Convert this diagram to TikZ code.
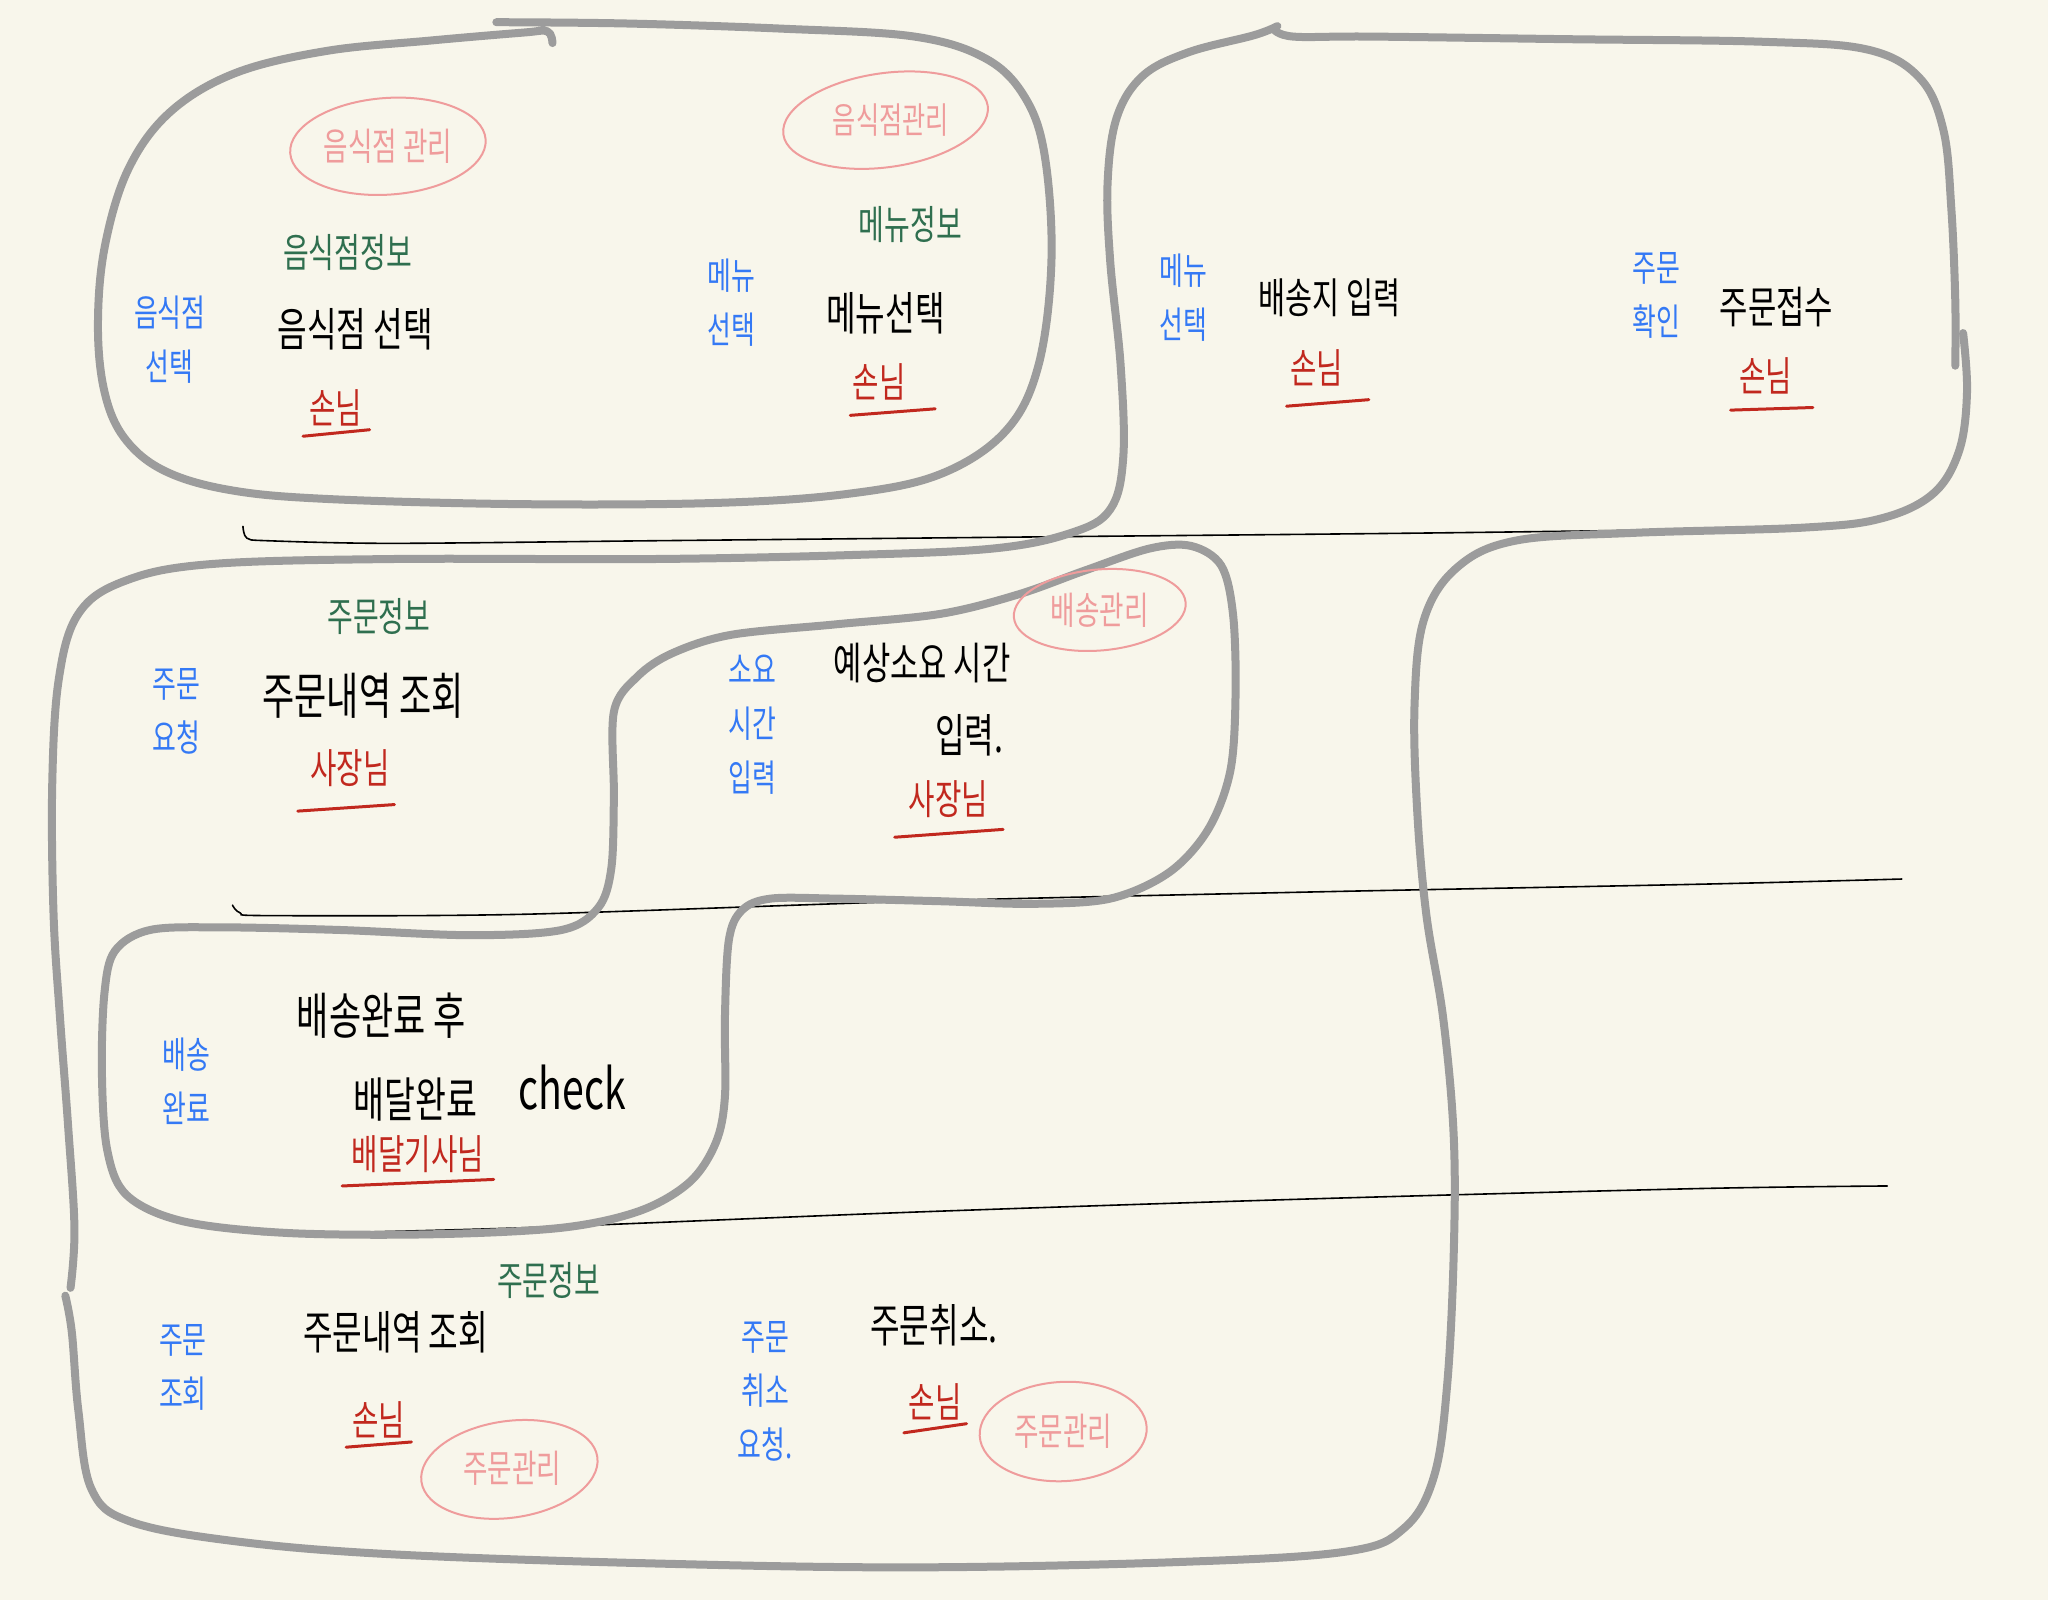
\documentclass[tikz,border=0pt]{standalone}
\usepackage{fontspec}
\newfontfamily\kr[FakeStretch=0.7]{Noto Sans CJK KR}
\definecolor{paper}{HTML}{F8F6EB}
\definecolor{pen}{HTML}{9C9C9C}
\definecolor{inkblue}{HTML}{3479F5}
\definecolor{inkgreen}{HTML}{2F6F4F}
\definecolor{inkred}{HTML}{C1281E}
\definecolor{inkpink}{HTML}{EF9C9C}
\tikzset{
  blk/.style={text=black,inner sep=0pt,font=\kr\fontsize{#1}{#1}\selectfont},
  blk/.default=46,
  blu/.style={text=inkblue,inner sep=0pt,align=center,font=\kr\fontsize{#1}{54}\selectfont},
  blu/.default=37,
  grn/.style={text=inkgreen,inner sep=0pt,font=\kr\fontsize{#1}{#1}\selectfont},
  grn/.default=40,
  rd/.style={text=inkred,inner sep=0pt,font=\kr\fontsize{#1}{#1}\selectfont},
  rd/.default=41,
  pnk/.style={text=inkpink,inner sep=0pt,font=\kr\fontsize{#1}{#1}\selectfont},
  pnk/.default=38,
  ring/.style={draw=inkpink,line width=2pt},
  ul/.style={draw=inkred,line width=3pt,line cap=round},
  gr/.style={draw=pen,line width=8pt,line cap=round,line join=round},
  rule/.style={draw=black,line width=1.6pt,line cap=round}
}
\begin{document}
\begin{tikzpicture}[x=1.30612pt,y=-1.30612pt]
\fill[paper] (0,0) rectangle (1568,1225);
\useasboundingbox (0,0) rectangle (1568,1225);

% thin black rules
\draw[rule] plot[smooth,tension=0.5] coordinates {(186,403) (189,412) (205,414) (300,416) (500,414) (800,411) (1100,408) (1395,404)};
\draw[rule] plot[smooth,tension=0.5] coordinates {(178,693) (184,699) (205,701) (400,700) (700,690) (1000,683) (1300,677) (1456,673)};
\draw[rule] plot[smooth,tension=0.5] coordinates {(200,945) (400,940) (700,928) (1000,918) (1300,910) (1445,908)};

% shape A (top-left)
\draw[gr] plot[smooth,tension=0.6] coordinates {(423,33) (419,24) (400,25) (330,31) (250,39) (180,56) (130,86) (98,130) (80,190) (75,250) (80,300) (95,335) (125,360) (175,375) (250,382) (400,386) (550,385) (650,378) (720,363) (770,330) (795,280) (805,200) (800,120) (785,75) (755,45) (700,28) (600,22) (480,18) (380,17)};

% big outer shape (top-right box continuing round the lower rows)
\draw[gr] plot[smooth,tension=0.6] coordinates {(975,22) (990,28) (1050,28) (1200,30) (1350,32) (1430,38) (1470,60) (1488,100) (1494,160) (1497,230) (1497,280)};
\draw[gr] plot[smooth,tension=0.6] coordinates {(1503,255) (1506,300) (1500,345) (1480,378) (1440,397) (1380,404) (1250,408) (1160,414) (1115,435) (1090,475) (1083,540) (1085,620) (1092,700) (1105,780) (1113,870) (1113,960) (1108,1060) (1098,1130) (1075,1170) (1030,1188) (900,1196) (700,1200) (500,1197) (300,1190) (180,1180) (100,1165) (70,1140) (60,1080) (55,1020) (50,992)};
\draw[gr] plot[smooth,tension=0.6] coordinates {(54,986) (57,940) (52,860) (46,780) (41,700) (40,600) (45,520) (60,470) (95,445) (160,432) (300,428) (500,428) (650,425) (760,420) (820,408) (850,390) (860,350) (858,280) (850,200) (848,140) (855,90) (875,58) (910,40) (960,27) (978,20)};

% shape E (middle S-shape)
\draw[gr] plot[smooth cycle,tension=0.55] coordinates {(470,545) (488,518) (515,500) (560,486) (640,478) (720,470) (780,455) (830,437) (880,420) (912,418) (935,433) (944,470) (946,530) (942,590) (925,635) (895,668) (850,688) (790,692) (720,690) (640,688) (590,688) (568,697) (558,720) (555,780) (555,840) (548,875) (528,905) (490,927) (430,940) (330,945) (220,944) (140,935) (97,915) (82,880) (78,820) (80,760) (88,728) (115,712) (170,710) (260,712) (360,716) (430,712) (458,695) (468,665) (470,610)};

% ---- row 1, left box
\node[pnk=38] (p1) at (297,112) {음식점 관리};
\draw[ring] (p1) ellipse[x radius=75, y radius=37, rotate=4];
\node[grn=40] (g1) at (266,193) {음식점정보};
\node[blu=37] (b1) at (130,260) {음식점\\선택};
\node[blk=46] (k1) at (272,252) {음식점 선택};
\node[rd=41] (r1) at (257,312) {손님};
\draw[ul] (232,334) -- (283,329);

\node[pnk=36] (p2) at (682,92) {음식점관리};
\draw[ring] (678,92) ellipse[x radius=79, y radius=36, rotate=8];
\node[grn=40] (g2) at (697,172) {메뉴정보};
\node[blu=37] (b2) at (560,232) {메뉴\\선택};
\node[blk=46] (k2) at (678,240) {메뉴선택};
\node[rd=41] (r2) at (673,292) {손님};
\draw[ul] (651,318) -- (716,313);

% ---- row 1, right box
\node[blu=37] (b3) at (906,228) {메뉴\\선택};
\node[blk=42] (k3) at (1018,228) {배송지 입력};
\node[rd=41] (r3) at (1008,282) {손님};
\draw[ul] (985,311) -- (1048,306);

\node[blu=37] (b4) at (1268,226) {주문\\확인};
\node[blk=44] (k4) at (1360,235) {주문접수};
\node[rd=41] (r4) at (1352,288) {손님};
\draw[ul] (1325,314) -- (1388,312);

% ---- row 2
\node[grn=40] (g5) at (290,472) {주문정보};
\node[blu=37] (b5) at (135,545) {주문\\요청};
\node[blk=50] (k5) at (278,533) {주문내역 조회};
\node[rd=41] (r5) at (268,588) {사장님};
\draw[ul] (228,621) -- (302,616);

\node[pnk=38] (p6) at (842,467) {배송관리};
\draw[ring] (p6) ellipse[x radius=66, y radius=31, rotate=5];
\node[blu=37] (b6) at (576,555) {소요\\시간\\입력};
\node[blk=44] (k6a) at (706,508) {예상소요 시간};
\node[blk=46] (k6b) at (742,563) {입력.};
\node[rd=41] (r6) at (726,612) {사장님};
\draw[ul] (685,641) -- (768,635);

% ---- row 3
\node[blu=37] (b7) at (143,828) {배송\\완료};
\node[blk=50] (k7a) at (292,778) {배송완료 후};
\node[blk=48] (k7b) at (318,842) {배달완료};
\node[blk=56] (k7c) at (438,833) {check};
\node[rd=41] (r7) at (320,884) {배달기사님};
\draw[ul] (262,908) -- (378,903);

% ---- row 4
\node[grn=40] (g8) at (420,980) {주문정보};
\node[blu=37] (b8) at (140,1047) {주문\\조회};
\node[blk=46] (k8) at (303,1020) {주문내역 조회};
\node[rd=41] (r8) at (290,1087) {손님};
\draw[ul] (265,1108) -- (315,1104);
\node[pnk=38] (p8) at (392,1124) {주문관리};
\draw[ring] (390,1125) ellipse[x radius=68, y radius=37, rotate=8];

\node[blu=37] (b9) at (586,1065) {주문\\취소\\요청.};
\node[blk=46] (k9) at (715,1015) {주문취소.};
\node[rd=41] (r9) at (716,1073) {손님};
\draw[ul] (692,1097) -- (740,1090);
\node[pnk=38] (p9) at (814,1096) {주문관리};
\draw[ring] (p9) ellipse[x radius=64, y radius=38, rotate=3];
\end{tikzpicture}
\end{document}
